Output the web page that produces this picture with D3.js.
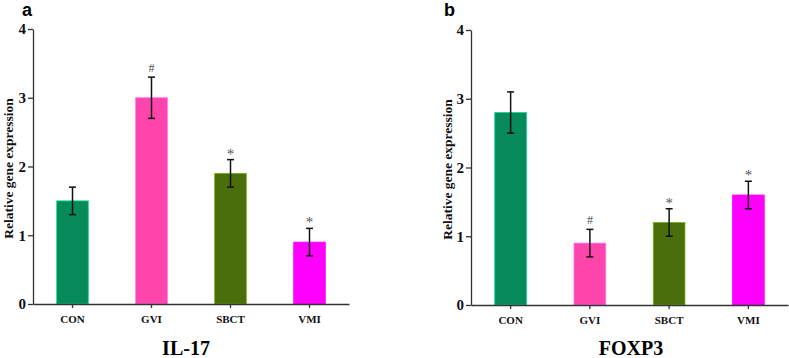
<!DOCTYPE html>
<html>
<head>
<meta charset="utf-8">
<script src="https://cdn.jsdelivr.net/npm/d3@7"></script>
<style>
  body { margin: 0; background: #fff; }
  svg { display: block; }
</style>
</head>
<body>
<div id="chart"></div>
<script>
// values
const groups = ["CON", "GVI", "SBCT", "VMI"];
const groupColours = ["#078a5a", "#ff44ac", "#4a6e0a", "#ff00ff"];
const yTicks = [0, 1, 2, 3, 4];

const il17Means = [1.5, 3.0, 1.9, 0.9];
const il17Errs = [0.2, 0.3, 0.2, 0.2];
const il17Marks = ["", "#", "*", "*"];

const foxp3Means = [2.8, 0.9, 1.2, 1.6];
const foxp3Errs = [0.3, 0.2, 0.2, 0.2];
const foxp3Marks = ["", "#", "*", "*"];

const width = 789;
const height = 358;
const serif = "'Liberation Serif', 'Times New Roman', serif";

const svg = d3.select("#chart")
  .append("svg")
  .attr("width", width)
  .attr("height", height);

// one panel = letter, y axis, bars w/ error bars, marks, title
function drawPanel(opts) {
  const { left, right, top, bottom, letter, letterX, title, titleX, labelX, means, errs, marks } = opts;

  const x = d3.scaleBand()
    .domain(groups)
    .range([left, right])
    .paddingInner(0.6)
    .paddingOuter(0.3);

  const y = d3.scaleLinear()
    .domain([0, 4])
    .range([bottom, top]);

  const g = svg.append("g");

  const data = groups.map((name, i) => ({ name, mean: means[i], err: errs[i], mark: marks[i], colour: groupColours[i] }));

  // bars
  g.selectAll("rect.bar")
    .data(data)
    .enter()
    .append("rect")
    .attr("class", "bar")
    .attr("x", d => x(d.name))
    .attr("y", d => y(d.mean))
    .attr("width", x.bandwidth())
    .attr("height", d => y(0) - y(d.mean))
    .attr("fill", d => d.colour)
    .attr("stroke", d => d3.color(d.colour).brighter(1.3))
    .attr("stroke-width", 0.8);

  // error bars
  const eb = g.selectAll("g.err")
    .data(data)
    .enter()
    .append("g")
    .attr("class", "err")
    .attr("stroke", "#111")
    .attr("stroke-width", 1.5);

  const cx = d => x(d.name) + x.bandwidth() / 2;
  eb.append("line")
    .attr("x1", cx).attr("x2", cx)
    .attr("y1", d => y(d.mean - d.err))
    .attr("y2", d => y(d.mean + d.err));
  eb.append("line")
    .attr("x1", d => cx(d) - 3.5).attr("x2", d => cx(d) + 3.5)
    .attr("y1", d => y(d.mean + d.err)).attr("y2", d => y(d.mean + d.err));
  eb.append("line")
    .attr("x1", d => cx(d) - 3.5).attr("x2", d => cx(d) + 3.5)
    .attr("y1", d => y(d.mean - d.err)).attr("y2", d => y(d.mean - d.err));

  // significance marks, '#' sits a bit higher than '*'
  g.selectAll("text.mark")
    .data(data.filter(d => d.mark))
    .enter()
    .append("text")
    .attr("class", "mark")
    .attr("x", cx)
    .attr("y", d => y(d.mean + d.err) - (d.mark === "#" ? 5 : 1))
    .attr("text-anchor", "middle")
    .attr("font-family", serif)
    .attr("font-size", d => d.mark === "#" ? "12px" : "15px")
    .attr("fill", "#555")
    .text(d => d.mark);

  // axes
  const yAxis = g.append("g")
    .attr("transform", `translate(${left},0)`)
    .call(d3.axisLeft(y).tickValues(yTicks).tickFormat(d3.format("d")).tickSize(5).tickSizeOuter(0).tickPadding(2));

  const xAxis = g.append("g")
    .attr("transform", `translate(0,${bottom})`)
    .call(d3.axisBottom(x).tickSize(4).tickSizeOuter(0).tickPadding(7));

  yAxis.selectAll("path, line").attr("stroke", "#333").attr("stroke-width", 1.3);
  xAxis.selectAll("path, line").attr("stroke", "#333").attr("stroke-width", 1.3);

  yAxis.selectAll("text")
    .attr("font-family", serif)
    .attr("font-weight", "bold")
    .attr("font-size", "15px")
    .attr("fill", "#111");

  xAxis.selectAll("text")
    .attr("font-family", serif)
    .attr("font-weight", "bold")
    .attr("font-size", "11px")
    .attr("fill", "#111");

  // y label
  g.append("text")
    .attr("transform", `translate(${labelX},${(top + bottom) / 2 + 2}) rotate(-90)`)
    .attr("text-anchor", "middle")
    .attr("font-family", serif)
    .attr("font-weight", "bold")
    .attr("font-size", "13.5px")
    .attr("fill", "#111")
    .text("Relative gene expression");

  // panel letter
  g.append("text")
    .attr("x", letterX)
    .attr("y", 16)
    .attr("font-family", "'Liberation Sans', Arial, sans-serif")
    .attr("font-weight", "bold")
    .attr("font-size", "18px")
    .attr("fill", "#000")
    .text(letter);

  // gene title
  g.append("text")
    .attr("x", titleX)
    .attr("y", 355)
    .attr("text-anchor", "middle")
    .attr("font-family", serif)
    .attr("font-weight", "bold")
    .attr("font-size", "20px")
    .attr("fill", "#000")
    .text(title);
}

drawPanel({
  left: 33, right: 349, top: 29, bottom: 304,
  letter: "a", letterX: 22, title: "IL-17", titleX: 186, labelX: 13,
  means: il17Means, errs: il17Errs, marks: il17Marks
});

drawPanel({
  left: 471, right: 788, top: 30, bottom: 305,
  letter: "b", letterX: 444, title: "FOXP3", titleX: 631, labelX: 452,
  means: foxp3Means, errs: foxp3Errs, marks: foxp3Marks
});
</script>
</body>
</html>
